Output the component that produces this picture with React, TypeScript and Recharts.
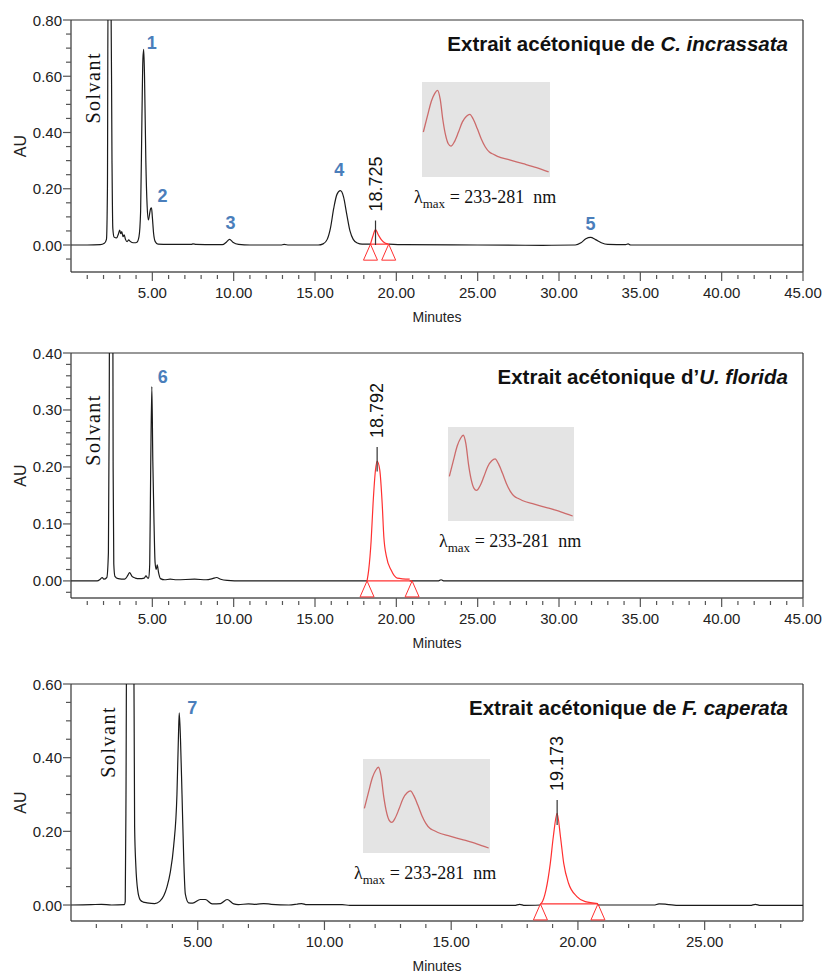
import React from "react";
import { LineChart, Line, XAxis, YAxis, ReferenceLine, ReferenceDot } from "recharts";

const SANS = '"Liberation Sans", Arial, Helvetica, sans-serif';
const SERIF = '"Liberation Serif", "Times New Roman", Times, serif';

// ---------------- Panel 1 : C. incrassata ----------------
const ciTime = [0, 1.0, 1.8, 2.05, 2.18, 2.24, 2.28, 2.45, 2.52, 2.57, 2.65, 2.8, 2.92, 2.99, 3.06, 3.12, 3.2, 3.27, 3.35, 3.45, 3.55, 3.62, 3.75, 3.9, 4.05, 4.18, 4.28, 4.36, 4.42, 4.47, 4.52, 4.6, 4.68, 4.76, 4.83, 4.9, 4.95, 5.0, 5.08, 5.18, 5.35, 6.0, 7.4, 7.5, 7.7, 8.8, 9.3, 9.55, 9.75, 9.95, 10.3, 11, 12.9, 13.1, 13.4, 15.2, 15.5, 15.75, 15.95, 16.15, 16.35, 16.56, 16.75, 16.95, 17.15, 17.35, 17.6, 17.9, 18.41];
const ciAU = [0, 0, 0.001, 0.006, 0.02, 0.2, 0.95, 0.95, 0.3, 0.06, 0.028, 0.025, 0.04, 0.053, 0.04, 0.048, 0.03, 0.036, 0.02, 0.012, 0.018, 0.014, 0.009, 0.008, 0.01, 0.03, 0.12, 0.45, 0.66, 0.696, 0.6, 0.3, 0.14, 0.089, 0.11, 0.13, 0.132, 0.1, 0.04, 0.012, 0.003, 0.002, 0.002, 0.004, 0.002, 0.001, 0.001, 0.01, 0.02, 0.01, 0.002, 0, 0, 0.002, 0, 0, 0.004, 0.02, 0.06, 0.13, 0.18, 0.193, 0.172, 0.11, 0.05, 0.02, 0.007, 0.003, 0.003];
const ciRedTime = [18.41, 18.55, 18.72, 18.9, 19.1, 19.3, 19.53];
const ciRedAU = [0.003, 0.03, 0.055, 0.035, 0.017, 0.007, 0.003];
const ciTailTime = [19.53, 20.5, 25, 29, 31.0, 31.35, 31.65, 31.94, 32.25, 32.6, 33.0, 34.1, 34.25, 34.4, 40, 45];
const ciTailAU = [0.003, 0.001, 0, -0.001, 0, 0.008, 0.022, 0.027, 0.019, 0.008, 0.002, 0.001, 0.004, 0, 0, 0];
const ciPeakNames = ["1", "2", "3", "4", "5"];
const ciPeakTime = [4.47, 4.95, 9.75, 16.56, 31.94];
const ciPeakAU = [0.696, 0.132, 0.02, 0.193, 0.027];
const ciPeakOffsets = [[8, -6], [11, -12], [1, -16], [-1, -21], [0, -13]];
const ciRT = { label: "18.725", time: 18.72, from: 0.0, to: 0.087 };
const ciIntegration = { start: 18.41, end: 19.53, au: 0.003 };
const ciSolvent = { time: 1.37, au: 0.559 };

// ---------------- Panel 2 : U. florida ----------------
const ufTime = [0, 1.6, 1.8, 1.92, 2.02, 2.2, 2.3, 2.35, 2.38, 2.56, 2.59, 2.63, 2.7, 2.9, 3.3, 3.5, 3.6, 3.75, 3.95, 4.2, 4.5, 4.61, 4.72, 4.78, 4.84, 4.9, 4.97, 5.03, 5.1, 5.17, 5.24, 5.3, 5.38, 5.5, 5.75, 6.1, 6.5, 7.6, 8.3, 8.7, 8.95, 9.2, 9.6, 10.5, 18.2];
const ufAU = [0, 0, 0.003, 0.006, 0.003, 0.006, 0.05, 0.3, 0.6, 0.6, 0.2, 0.03, 0.008, 0.004, 0.003, 0.01, 0.0146, 0.008, 0.005, 0.004, 0.005, 0.009, 0.005, 0.005, 0.03, 0.2, 0.341, 0.21, 0.107, 0.032, 0.02, 0.028, 0.015, 0.004, 0.002, 0.003, 0.002, 0.003, 0.002, 0.004, 0.006, 0.003, 0.001, 0, 0];
const ufRedTime = [18.2, 18.3, 18.45, 18.57, 18.72, 18.82, 18.98, 19.13, 19.23, 19.39, 19.68, 20.05, 20.82];
const ufRedAU = [0, 0.019, 0.07, 0.136, 0.195, 0.21, 0.195, 0.136, 0.078, 0.043, 0.019, 0.005, 0.003];
const ufTailTime = [20.82, 22.6, 22.75, 22.9, 45];
const ufTailAU = [0, 0, 0.002, 0, 0];
const ufPeakNames = ["6"];
const ufPeakTime = [4.97];
const ufPeakAU = [0.341];
const ufPeakOffsets = [[11, -10]];
const ufRT = { label: "18.792", time: 18.82, from: 0.192, to: 0.235 };
const ufIntegration = { start: 18.2, end: 20.97, au: 0.0 };
const ufSolvent = { time: 1.37, au: 0.265 };

// ---------------- Panel 3 : F. caperata ----------------
const fcTime = [0, 0.8, 1.2, 1.6, 2.1, 2.14, 2.17, 2.2, 2.47, 2.51, 2.56, 2.63, 2.73, 2.85, 3.0, 3.3, 3.5, 3.66, 3.79, 3.92, 4.05, 4.18, 4.24, 4.27, 4.32, 4.38, 4.45, 4.51, 4.64, 4.8, 5.1, 5.3, 5.57, 5.9, 6.16, 6.42, 6.6, 7.0, 7.3, 7.6, 7.9, 8.6, 8.9, 9.1, 9.3, 10.7, 11.0, 17.5, 17.7, 17.9, 18.52];
const fcAU = [0, 0.001, 0.002, 0, 0.001, 0.01, 0.3, 0.8, 0.8, 0.213, 0.104, 0.041, 0.014, 0.008, 0.006, 0.004, 0.01, 0.025, 0.05, 0.09, 0.16, 0.3, 0.46, 0.522, 0.45, 0.3, 0.12, 0.03, 0.006, 0.005, 0.015, 0.015, 0.003, 0.004, 0.015, 0.003, 0.001, 0.003, 0.002, 0.004, 0.002, 0, 0.002, 0.004, 0.001, 0.001, -0.001, -0.001, 0.002, -0.001, 0];
const fcRedTime = [18.52, 18.56, 18.74, 18.91, 19.03, 19.18, 19.31, 19.44, 19.63, 19.96, 20.29, 20.79];
const fcRedAU = [0.003, 0.005, 0.041, 0.113, 0.186, 0.249, 0.186, 0.113, 0.059, 0.023, 0.009, 0.004];
const fcTailTime = [20.79, 23.0, 23.2, 23.5, 24.0, 26.8, 27.0, 27.2, 28.88];
const fcTailAU = [0, 0, 0.003, 0.002, -0.001, -0.001, 0.002, -0.001, -0.001];
const fcPeakNames = ["7"];
const fcPeakTime = [4.27];
const fcPeakAU = [0.522];
const fcPeakOffsets = [[13, -5]];
const fcRT = { label: "19.173", time: 19.18, from: 0.217, to: 0.285 };
const fcIntegration = { start: 18.52, end: 20.79, au: 0.003 };
const fcSolvent = { time: 1.475, au: 0.443 };

// ---------------- Axis ticks ----------------
const xMajor45 = [5, 10, 15, 20, 25, 30, 35, 40, 45];
const xMinor45 = [1, 2, 3, 4, 6, 7, 8, 9, 11, 12, 13, 14, 16, 17, 18, 19, 21, 22, 23, 24, 26, 27, 28, 29, 31, 32, 33, 34, 36, 37, 38, 39, 41, 42, 43, 44];
const xMajor29 = [5, 10, 15, 20, 25];
const xMinor29 = [1, 2, 3, 4, 6, 7, 8, 9, 11, 12, 13, 14, 16, 17, 18, 19, 21, 22, 23, 24, 26, 27, 28];
const yMajor1 = [0, 0.2, 0.4, 0.6, 0.8];
const yMinor1 = [-0.05, 0.05, 0.1, 0.15, 0.25, 0.3, 0.35, 0.45, 0.5, 0.55, 0.65, 0.7, 0.75];
const yMajor2 = [0, 0.1, 0.2, 0.3, 0.4];
const yMinor2 = [-0.02, 0.02, 0.04, 0.06, 0.08, 0.12, 0.14, 0.16, 0.18, 0.22, 0.24, 0.26, 0.28, 0.32, 0.34, 0.36, 0.38];
const yMajor3 = [0, 0.2, 0.4, 0.6];
const yMinor3 = [0.05, 0.1, 0.15, 0.25, 0.3, 0.35, 0.45, 0.5, 0.55];

// ---------------- UV spectrum (inset) ----------------
const specNm = [212, 218, 224, 229, 233, 237, 241, 245, 249, 253, 258, 264, 270, 276, 281, 286, 292, 298, 304, 310, 316, 322, 340, 360, 380, 398];
const specAbs = [0.474, 0.64, 0.8, 0.88, 0.912, 0.82, 0.6, 0.44, 0.35, 0.326, 0.37, 0.47, 0.58, 0.64, 0.66, 0.61, 0.51, 0.4, 0.316, 0.263, 0.239, 0.218, 0.18, 0.14, 0.098, 0.053];

const titles = [
  { plain: "Extrait acétonique de ", italic: "C. incrassata" },
  { plain: "Extrait acétonique d\u2019", italic: "U. florida" },
  { plain: "Extrait acétonique de ", italic: "F. caperata" },
];

const toData = (ts: number[], vs: number[]) => ts.map((t, i) => ({ t, au: vs[i] }));
const isIn = (v: number, arr: number[]) => arr.some((a) => Math.abs(a - v) < 1e-9);

const BLUE = "#4a7ebb";
const RED = "#ff3030";
const AXIS = "#555";

function makeXTick(majors: number[]) {
  return (props: any) => {
    const { x, y, payload } = props;
    const v = payload.value;
    const major = isIn(v, majors);
    return (
      <g>
        <line x1={x} x2={x} y1={major ? y : y + 3} y2={major ? y + 9 : y + 7} stroke={AXIS} strokeWidth={1.2} />
        {major && (
          <text x={x} y={y + 26} textAnchor="middle" fontSize={15} fontFamily={SANS} fill="#222">
            {v.toFixed(2)}
          </text>
        )}
      </g>
    );
  };
}

function makeYTick(majors: number[]) {
  return (props: any) => {
    const { x, y, payload } = props;
    const v = payload.value;
    const major = isIn(v, majors);
    return (
      <g>
        <line x1={major ? x - 8 : x - 5} x2={x} y1={y} y2={y} stroke={AXIS} strokeWidth={1.2} />
        {major && (
          <text x={x - 9} y={y} textAnchor="end" dominantBaseline="central" fontSize={15} fontFamily={SANS} fill="#222">
            {v.toFixed(2)}
          </text>
        )}
      </g>
    );
  };
}

const triangle = (p: any) => (
  <path d={`M${p.cx},${p.cy} L${p.cx - 7},${p.cy + 16} L${p.cx + 7},${p.cy + 16} Z`} fill="none" stroke={RED} strokeWidth={1} />
);

function Inset({ left, top, w, h }: { left: number; top: number; w: number; h: number }) {
  return (
    <div style={{ position: "absolute", left, top, width: w, height: h, background: "#e4e4e4" }}>
      <LineChart width={w} height={h} margin={{ top: 0, right: 0, bottom: 0, left: 0 }}>
        <XAxis type="number" dataKey="nm" domain={[210, 400]} hide />
        <YAxis type="number" domain={[0, 1]} hide />
        <Line
          data={specNm.map((nm, i) => ({ nm, a: specAbs[i] }))}
          dataKey="a"
          type="monotone"
          stroke="#cc6b6b"
          strokeWidth={1.3}
          dot={false}
          activeDot={false}
          isAnimationActive={false}
        />
      </LineChart>
    </div>
  );
}

function Lambda({ left, top }: { left: number; top: number }) {
  return (
    <div style={{ position: "absolute", left, top, fontFamily: SERIF, fontSize: 18, lineHeight: "20px", whiteSpace: "pre", color: "#111" }}>
      λ<span style={{ fontSize: 13, position: "relative", top: 5 }}>max</span> = 233-281  nm
    </div>
  );
}

function Panel({ cfg }: { cfg: any }) {
  const xTicks = [...cfg.xMinor, ...cfg.xMajor].sort((a: number, b: number) => a - b);
  const yTicks = [...cfg.yMinor, ...cfg.yMajor].sort((a: number, b: number) => a - b);
  const lineProps = { dataKey: "au", dot: false, activeDot: false, isAnimationActive: false, type: "monotone" as const, strokeWidth: 1.2 };
  return (
    <div style={{ position: "absolute", left: 0, top: cfg.top, width: 822, height: cfg.height }}>
      <LineChart width={822} height={cfg.height} margin={cfg.margin}>
        <XAxis
          type="number"
          dataKey="t"
          domain={[0, cfg.xMax]}
          allowDataOverflow
          ticks={xTicks}
          interval={0}
          tickLine={false}
          tickSize={0}
          tickMargin={0}
          tick={makeXTick(cfg.xMajor)}
          height={50}
          axisLine={{ stroke: AXIS, strokeWidth: 1.6 }}
          label={{ value: "Minutes", position: "insideBottom", offset: 0, fontSize: 14, fontFamily: SANS, fill: "#222" }}
        />
        <YAxis
          type="number"
          domain={[cfg.yMin, cfg.yMax]}
          allowDataOverflow
          ticks={yTicks}
          interval={0}
          tickLine={false}
          tickSize={0}
          tickMargin={0}
          tick={makeYTick(cfg.yMajor)}
          width={63}
          axisLine={{ stroke: "#333", strokeWidth: 1.2 }}
          label={{ value: "AU", angle: -90, position: "insideLeft", offset: 12, style: { textAnchor: "middle" }, fontSize: 16, fontFamily: SANS, fill: "#222" }}
        />
        <ReferenceLine y={cfg.yMax} stroke="#333" strokeWidth={1.2} ifOverflow="visible" />
        <ReferenceLine x={cfg.xMax} stroke="#333" strokeWidth={1.2} ifOverflow="visible" />
        <Line {...lineProps} data={toData(cfg.time, cfg.au)} stroke="#1a1a1a" />
        <Line {...lineProps} data={toData(cfg.tailTime, cfg.tailAU)} stroke="#1a1a1a" />
        <Line {...lineProps} data={toData(cfg.redTime, cfg.redAU)} stroke={RED} />
        <ReferenceLine
          segment={[{ x: cfg.integ.start, y: cfg.integ.au }, { x: cfg.integ.end, y: cfg.integ.au }]}
          stroke={RED}
          strokeWidth={1.2}
          ifOverflow="visible"
        />
        <ReferenceLine
          segment={[{ x: cfg.rt.time, y: cfg.rt.from }, { x: cfg.rt.time, y: cfg.rt.to }]}
          stroke="#333"
          strokeWidth={1.2}
          ifOverflow="visible"
        />
        <ReferenceDot
          x={cfg.rt.time}
          y={cfg.rt.to}
          ifOverflow="visible"
          shape={(p: any) => (
            <text
              x={p.cx}
              y={p.cy - 9}
              transform={`rotate(-90 ${p.cx} ${p.cy - 9})`}
              textAnchor="start"
              dominantBaseline="central"
              fontSize={18}
              fontFamily={SANS}
              fill="#111"
            >
              {cfg.rt.label}
            </text>
          )}
        />
        <ReferenceDot x={cfg.integ.start} y={cfg.integ.au} ifOverflow="visible" shape={triangle} />
        <ReferenceDot x={cfg.integ.end} y={cfg.integ.au} ifOverflow="visible" shape={triangle} />
        {cfg.peakNames.map((name: string, i: number) => (
          <ReferenceDot
            key={name}
            x={cfg.peakTime[i]}
            y={cfg.peakAU[i]}
            ifOverflow="visible"
            shape={(p: any) => (
              <text
                x={p.cx + cfg.peakOffsets[i][0]}
                y={p.cy + cfg.peakOffsets[i][1]}
                textAnchor="middle"
                dominantBaseline="central"
                fontSize={18}
                fontWeight="bold"
                fontFamily={SANS}
                fill={BLUE}
              >
                {name}
              </text>
            )}
          />
        ))}
        <ReferenceDot
          x={cfg.solvent.time}
          y={cfg.solvent.au}
          ifOverflow="visible"
          shape={(p: any) => (
            <text
              x={p.cx}
              y={p.cy}
              transform={`rotate(-90 ${p.cx} ${p.cy})`}
              textAnchor="middle"
              dominantBaseline="central"
              fontSize={20}
              letterSpacing={1.5}
              fontFamily={SERIF}
              fill="#111"
            >
              Solvant
            </text>
          )}
        />
        <ReferenceDot
          x={cfg.xMax}
          y={cfg.yMax}
          ifOverflow="visible"
          shape={(p: any) => (
            <text x={p.cx - 15} y={p.cy + 23} textAnchor="end" dominantBaseline="central" fontSize={20.5} fontWeight="bold" fontFamily={SANS} fill="#111">
              {cfg.title.plain}
              <tspan fontStyle="italic">{cfg.title.italic}</tspan>
            </text>
          )}
        />
      </LineChart>
      <Inset {...cfg.inset} />
      <Lambda {...cfg.lambda} />
    </div>
  );
}

export default function App() {
  const panels = [
    {
      top: 0, height: 330, margin: { top: 20, right: 19, bottom: 8, left: 8 },
      xMax: 45, xMajor: xMajor45, xMinor: xMinor45, yMin: -0.096, yMax: 0.8, yMajor: yMajor1, yMinor: yMinor1,
      time: ciTime, au: ciAU, redTime: ciRedTime, redAU: ciRedAU, tailTime: ciTailTime, tailAU: ciTailAU,
      peakNames: ciPeakNames, peakTime: ciPeakTime, peakAU: ciPeakAU, peakOffsets: ciPeakOffsets,
      rt: ciRT, integ: ciIntegration, solvent: ciSolvent, title: titles[0],
      inset: { left: 422, top: 82, w: 128, h: 95 }, lambda: { left: 414, top: 187 },
    },
    {
      top: 330, height: 330, margin: { top: 23, right: 19, bottom: 12, left: 8 },
      xMax: 45, xMajor: xMajor45, xMinor: xMinor45, yMin: -0.03, yMax: 0.4, yMajor: yMajor2, yMinor: yMinor2,
      time: ufTime, au: ufAU, redTime: ufRedTime, redAU: ufRedAU, tailTime: ufTailTime, tailAU: ufTailAU,
      peakNames: ufPeakNames, peakTime: ufPeakTime, peakAU: ufPeakAU, peakOffsets: ufPeakOffsets,
      rt: ufRT, integ: ufIntegration, solvent: ufSolvent, title: titles[1],
      inset: { left: 448, top: 97, w: 126, h: 94 }, lambda: { left: 439, top: 201 },
    },
    {
      top: 660, height: 318, margin: { top: 24, right: 19, bottom: 7, left: 8 },
      xMax: 28.88, xMajor: xMajor29, xMinor: xMinor29, yMin: -0.0434, yMax: 0.6, yMajor: yMajor3, yMinor: yMinor3,
      time: fcTime, au: fcAU, redTime: fcRedTime, redAU: fcRedAU, tailTime: fcTailTime, tailAU: fcTailAU,
      peakNames: fcPeakNames, peakTime: fcPeakTime, peakAU: fcPeakAU, peakOffsets: fcPeakOffsets,
      rt: fcRT, integ: fcIntegration, solvent: fcSolvent, title: titles[2],
      inset: { left: 363, top: 99, w: 127, h: 94 }, lambda: { left: 354, top: 203 },
    },
  ];
  return (
    <div style={{ position: "absolute", left: 0, top: 0, width: 822, height: 978, background: "#fff" }}>
      {panels.map((cfg, i) => (
        <Panel key={i} cfg={cfg} />
      ))}
    </div>
  );
}
